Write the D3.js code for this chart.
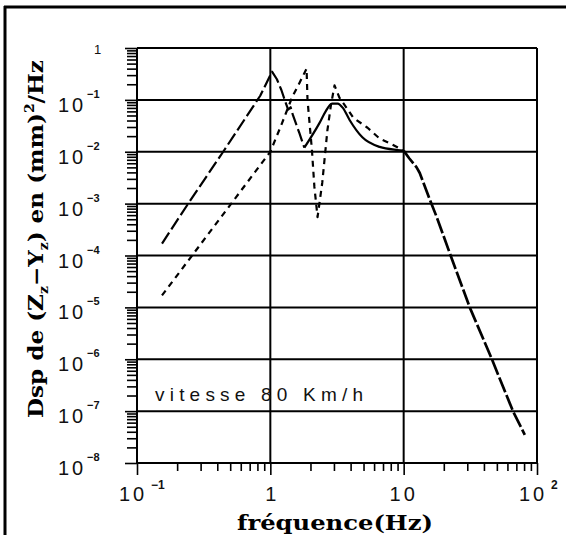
<!DOCTYPE html>
<html>
<head>
<meta charset="utf-8">
<script src="https://cdn.jsdelivr.net/npm/d3@7"></script>
<style>
    body { margin: 0; background: #fff; }
    .tick-label { font-family: "Liberation Sans", Arial, sans-serif; fill: #111; }
    .axis-title { font-family: "DejaVu Serif", serif; font-weight: bold; fill: #000; }
</style>
</head>
<body>
<div id="chart"></div>
<script>

// courbe en tirets longs (montée jusqu'au pic à 1 Hz)
var longDash = [
    [0.154, 1.7e-4], [0.242, 1e-3], [0.443, 1e-2], [0.84, 0.12],
    [1.03, 0.35], [1.12, 0.25], [1.21, 0.155], [1.3, 0.09], [1.36, 0.065],
    [1.42, 0.072], [1.48, 0.05], [1.65, 0.023], [1.8, 0.012]
];

// courbe en tirets courts (pic 1.9 Hz, creux 2.3 Hz)
var shortDash = [
    [0.154, 1.7e-5], [1.0, 1e-2], [1.21, 0.033],
    [1.46, 0.114], [1.65, 0.21], [1.87, 0.4], [1.9, 0.1], [2.05, 0.011],
    [2.14, 2.1e-3], [2.26, 5.5e-4], [2.45, 2.5e-3], [2.68, 0.026], [2.85, 0.08],
    [3.03, 0.19], [3.3, 0.11], [3.6, 0.08], [4.2, 0.045], [5.36, 0.029],
    [6.6, 0.018], [8.1, 0.014], [10, 0.0105]
];

// courbe en trait plein (pic 3 Hz)
var solid = [
    [1.8, 0.012], [2.34, 0.036], [2.6, 0.06], [2.9, 0.085], [3.2, 0.085],
    [3.5, 0.07], [3.93, 0.041], [4.9, 0.019], [6.6, 0.0124], [9, 0.0108],
    [10, 0.0105]
];

// partie commune au-dela de 10 Hz
var tail = [
    [10, 0.0105], [11, 7.5e-3], [12.5, 5e-3], [13.2, 3.9e-3], [15.7, 1.2e-3],
    [17.7, 5.5e-4], [22.2, 1.1e-4], [31.3, 1e-5], [45.9, 1e-6], [66, 1e-7],
    [81, 3.5e-8]
];

var xTickValues = [0.1, 1, 10, 100];
var xTickBase = ["10", "1", "10", "10"];
var xTickExp = ["-1", "", "", "2"];

var yTickValues = [1, 1e-1, 1e-2, 1e-3, 1e-4, 1e-5, 1e-6, 1e-7, 1e-8];
var yTickBase = ["1", "10", "10", "10", "10", "10", "10", "10", "10"];
var yTickExp = ["", "-1", "-2", "-3", "-4", "-5", "-6", "-7", "-8"];

var annotation = "vitesse  80  Km/h";

var margin = { top: 48, right: 29, bottom: 72, left: 137 };
var width = 566 - margin.left - margin.right,
    height = 535 - margin.top - margin.bottom;

var svg = d3.select("#chart").append("svg")
    .attr("width", 566)
    .attr("height", 535);

// cadre de la figure (haut et gauche)
svg.append("line")
    .attr("x1", 4).attr("x2", 566).attr("y1", 7).attr("y2", 7)
    .attr("stroke", "#000").attr("stroke-width", 3);
svg.append("line")
    .attr("x1", 5).attr("x2", 5).attr("y1", 6).attr("y2", 535)
    .attr("stroke", "#000").attr("stroke-width", 3);

var g = svg.append("g")
    .attr("transform", "translate(" + margin.left + "," + margin.top + ")");

var x = d3.scaleLog().domain([0.1, 100]).range([0, width]);
var y = d3.scaleLog().domain([1e-8, 1]).range([height, 0]);

// petites graduations
function minorTicks(lo, hi) {
    var v = [];
    for (var e = lo; e < hi; e++) {
        for (var k = 2; k <= 9; k++) v.push(k * Math.pow(10, e));
    }
    return v;
}

var yMinor = d3.axisLeft(y).tickValues(minorTicks(-8, 0)).tickSize(10).tickFormat("");
var yMajor = d3.axisLeft(y).tickValues(yTickValues).tickSize(12).tickFormat("");
var xMinor = d3.axisBottom(x).tickValues(minorTicks(-1, 2)).tickSize(8).tickFormat("");
var xMajor = d3.axisBottom(x).tickValues(xTickValues).tickSize(12).tickFormat("");

[yMinor, yMajor].forEach(function(ax) {
    g.append("g").attr("class", "y-axis axis").call(ax);
});
[xMinor, xMajor].forEach(function(ax) {
    g.append("g").attr("class", "x-axis axis")
        .attr("transform", "translate(0," + height + ")")
        .call(ax);
});
g.selectAll(".axis .domain").remove();
g.selectAll(".axis line").attr("stroke", "#000").attr("stroke-width", 1.6);

// grille des decades
g.selectAll(".hgrid")
    .data(yTickValues)
    .enter().append("line")
    .attr("class", "hgrid")
    .attr("x1", 0).attr("x2", width)
    .attr("y1", function(d) { return y(d); })
    .attr("y2", function(d) { return y(d); })
    .attr("stroke", "#000").attr("stroke-width", 2);

g.selectAll(".vgrid")
    .data(xTickValues)
    .enter().append("line")
    .attr("class", "vgrid")
    .attr("x1", function(d) { return x(d); })
    .attr("x2", function(d) { return x(d); })
    .attr("y1", 0).attr("y2", height)
    .attr("stroke", "#000").attr("stroke-width", 2);

// libelles des graduations
g.selectAll(".ylab")
    .data(yTickValues)
    .enter().append("text")
    .attr("class", "tick-label ylab")
    .attr("x", function(d) { return d === 1 ? -43 : -79; })
    .attr("y", function(d) { return y(d) + (d === 1 ? 6 : 12); })
    .style("font-size", function(d) { return d === 1 ? "13px" : "20px"; })
    .style("letter-spacing", "3px")
    .text(function(d, i) { return yTickBase[i]; });

g.selectAll(".yexp")
    .data(yTickValues)
    .enter().append("text")
    .attr("class", "tick-label yexp")
    .attr("x", -50)
    .attr("y", function(d) { return y(d) - 2; })
    .style("font-size", "11px")
    .style("font-weight", "bold")
    .text(function(d, i) { return yTickExp[i].replace("-", "\u2212"); });

g.selectAll(".xlab")
    .data(xTickValues)
    .enter().append("text")
    .attr("class", "tick-label xlab")
    .attr("text-anchor", "middle")
    .attr("x", function(d, i) { return x(d) + (xTickExp[i] ? -4 : (xTickBase[i] === "10" ? 0 : 2)); })
    .attr("y", height + 38)
    .style("font-size", "20px")
    .style("letter-spacing", "3px")
    .text(function(d, i) { return xTickBase[i]; });

g.selectAll(".xexp")
    .data(xTickValues)
    .enter().append("text")
    .attr("class", "tick-label xexp")
    .attr("x", function(d) { return x(d) + 14; })
    .attr("y", height + 26)
    .style("font-size", "12px")
    .style("font-weight", "bold")
    .text(function(d, i) { return xTickExp[i].replace("-", "\u2212"); });

// courbes
var line = d3.line()
    .x(function(d) { return x(d[0]); })
    .y(function(d) { return y(d[1]); });

var series = [
    { data: longDash, dash: "13,4", curve: d3.curveLinear, w: 2.2 },
    { data: shortDash, dash: "6,5", curve: d3.curveLinear, w: 2.2 },
    { data: solid, dash: null, curve: d3.curveMonotoneX, w: 2.2 },
    { data: tail, dash: "16,3", curve: d3.curveLinear, w: 2.7 }
];

g.selectAll(".line")
    .data(series)
    .enter().append("path")
    .attr("class", "line")
    .attr("d", function(d) { return line.curve(d.curve)(d.data); })
    .attr("fill", "none")
    .attr("stroke", "#000")
    .attr("stroke-width", function(d) { return d.w; })
    .attr("stroke-linejoin", "round")
    .attr("stroke-dasharray", function(d) { return d.dash; });

// annotation
g.append("text")
    .attr("class", "tick-label")
    .attr("x", 18)
    .attr("y", y(1e-7) - 10)
    .attr("textLength", 208)
    .attr("lengthAdjust", "spacing")
    .style("font-size", "19px")
    .text(annotation);

// titres des axes
svg.append("text")
    .attr("class", "axis-title")
    .attr("text-anchor", "middle")
    .attr("x", 335)
    .attr("y", 530)
    .attr("textLength", 196)
    .attr("lengthAdjust", "spacingAndGlyphs")
    .style("font-size", "21px")
    .text("fréquence(Hz)");

var yTitle = svg.append("text")
    .attr("class", "axis-title")
    .attr("text-anchor", "middle")
    .attr("transform", "translate(43,239) rotate(-90)")
    .attr("textLength", 358)
    .attr("lengthAdjust", "spacingAndGlyphs")
    .style("font-size", "20px");

yTitle.append("tspan").text("Dsp de (Z");
yTitle.append("tspan").attr("dy", 5).style("font-size", "12px").text("z");
yTitle.append("tspan").attr("dy", -5).text("\u2212Y");
yTitle.append("tspan").attr("dy", 5).style("font-size", "12px").text("z");
yTitle.append("tspan").attr("dy", -5).text(") en (mm)");
yTitle.append("tspan").attr("dy", -9).style("font-size", "12px").text("2");
yTitle.append("tspan").attr("dy", 9).text("/Hz");

</script>
</body>
</html>
